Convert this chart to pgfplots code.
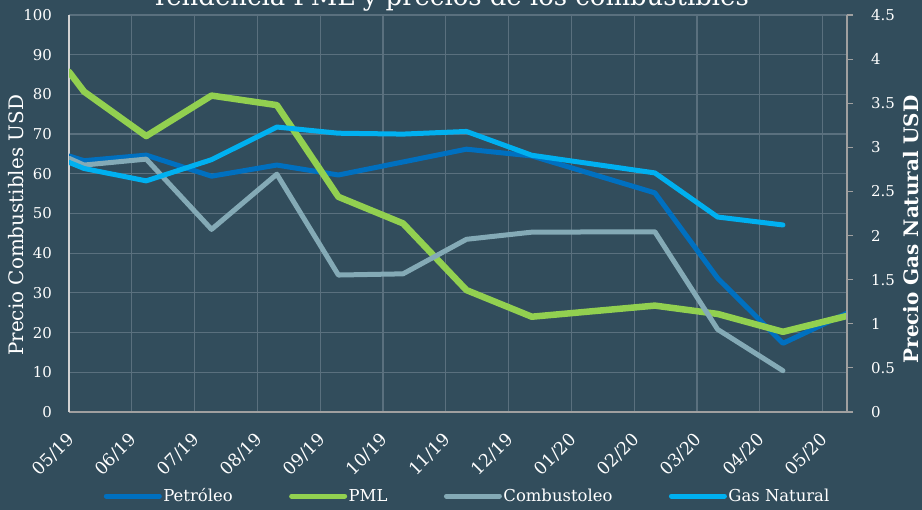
\documentclass[border=0pt]{standalone}
\usepackage{pgfplots}
\pgfplotsset{compat=1.18}
\usepackage{fontspec}
\setmainfont{DejaVu Serif}
\definecolor{bg}{RGB}{50,77,92}
\definecolor{gridc}{RGB}{90,112,126}
\definecolor{petro}{RGB}{0,112,192}
\definecolor{pml}{RGB}{146,208,80}
\definecolor{combu}{RGB}{132,170,182}
\definecolor{gas}{RGB}{0,176,240}
\definecolor{axl}{RGB}{210,210,210}
\definecolor{axr}{RGB}{160,160,160}

\pgfplotstableread{
x y
0 64.5
0.24 63.3
1.23 64.7
2.27 59.4
3.31 62.2
4.29 59.7
6.33 66.2
7.37 64.5
9.33 55.2
10.33 33.7
11.37 17.3
12.39 24.9
}\petroleo
\pgfplotstableread{
x y
0 85.7
0.24 80.7
1.23 69.5
2.27 79.7
3.31 77.3
4.29 54.2
5.32 47.5
6.33 30.7
7.37 24.0
9.33 26.8
10.33 24.7
11.37 20.2
12.39 24.2
}\pml
\pgfplotstableread{
x y
0 63.9
0.24 62.2
1.23 63.7
2.27 46.0
3.31 59.9
4.29 34.5
5.32 34.8
6.33 43.5
7.37 45.3
9.33 45.4
10.33 20.8
11.37 10.4
}\combustoleo
\pgfplotstableread{
x y
0 2.83
0.24 2.76
1.23 2.62
2.27 2.86
3.31 3.23
4.29 3.16
5.32 3.15
6.33 3.18
7.37 2.91
9.33 2.71
10.33 2.21
11.37 2.12
}\gas

\begin{document}
\begin{tikzpicture}
\useasboundingbox (0,0) rectangle (922bp,510bp);
\fill[bg] (0,0) rectangle (922bp,510bp);
\begin{scope}
\clip (0,0) rectangle (922bp,510bp);
\node[anchor=base, text=white, font=\fontsize{26}{30}\selectfont, inner sep=0pt] at (450bp,504bp) {Tendencia PML y precios de los combustibles};
\end{scope}
\begin{axis}[
  at={(69bp,98bp)}, anchor=south west,
  scale only axis, width=778bp, height=397bp,
  xmin=0, xmax=12.39, ymin=0, ymax=100,
  axis x line*=bottom, axis y line*=left,
  x axis line style={draw=axr, line width=2bp},
  y axis line style={draw=axl, line width=1.5bp},
  xtick={0,1,2,3,4,5,6,7,8,9,10,11,12},
  xticklabels={05/19,06/19,07/19,08/19,09/19,10/19,11/19,12/19,01/20,02/20,03/20,04/20,05/20},
  ytick={0,10,20,30,40,50,60,70,80,90,100},
  grid=major, major grid style={draw=gridc, line width=1.2bp},
  major tick length=0pt,
  tick label style={text=white, font=\fontsize{15}{17}\selectfont},
  /pgf/number format/assume math mode=true,
  yticklabel style={inner sep=0pt, xshift=-17bp},
  xticklabel style={inner sep=0pt, xshift=2bp, yshift=-25bp, rotate=45, anchor=east, font=\fontsize{17.5}{19}\selectfont},
  ylabel={Precio Combustibles USD},
  ylabel style={at={(axis description cs:-0.0675,0.47)}, anchor=center, text=white, font=\fontsize{20}{22}\selectfont},
  legend columns=4,
  legend style={at={(axis description cs:0.512,-0.2116)}, anchor=center, draw=none, fill=none,
    text=white, font=\fontsize{16.5}{19}\selectfont,
    nodes={inner sep=1.5bp},
    /tikz/every even column/.append style={column sep=55bp}},
  legend image code/.code={\draw[line width=5bp, line cap=round] (1bp,0bp) -- (54bp,0bp);},
  every axis plot/.append style={line cap=round, line join=round, no markers},
]
\addplot[petro, line width=5bp] table {\petroleo};
\addlegendentry{Petróleo}
\addplot[pml, line width=6.5bp] table {\pml};
\addlegendentry{PML}
\addplot[combu, line width=5bp] table {\combustoleo};
\addlegendentry{Combustoleo}
\addlegendimage{gas, line width=5bp}
\addlegendentry{Gas Natural}
\end{axis}
\begin{axis}[
  at={(69bp,98bp)}, anchor=south west,
  scale only axis, width=778bp, height=397bp,
  xmin=0, xmax=12.39, ymin=0, ymax=4.5,
  axis x line=none, axis y line*=right,
  y axis line style={draw=axr, line width=1.5bp},
  ytick={0,0.5,1,1.5,2,2.5,3,3.5,4,4.5},
  yticklabels={0,0.5,1,1.5,2,2.5,3,3.5,4,4.5},
  tick align=outside, major tick length=6bp,
  major tick style={draw=axr, line width=1.2bp},
  tick label style={text=white, font=\fontsize{15}{17}\selectfont},
  yticklabel style={inner sep=0pt, anchor=west, xshift=18bp},
  ylabel={\bfseries Precio Gas Natural USD},
  ylabel style={at={(axis description cs:1.0823,0.46)}, anchor=center, text=white, font=\fontsize{20}{22}\selectfont},
  every axis plot/.append style={line cap=round, line join=round, no markers},
]
\addplot[gas, line width=5bp] table {\gas};
\end{axis}
\end{tikzpicture}
\end{document}
